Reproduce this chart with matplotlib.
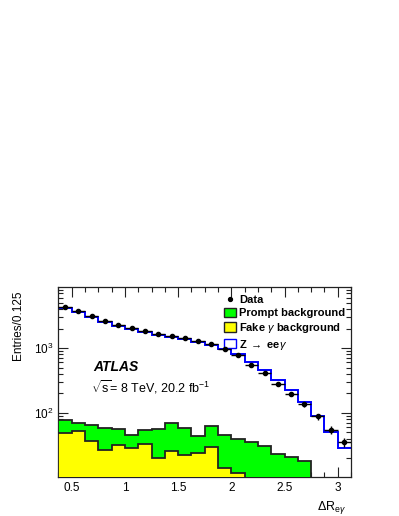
import numpy as np
import matplotlib
matplotlib.use("Agg")
import matplotlib.pyplot as plt
from matplotlib.patches import Patch
from matplotlib.lines import Line2D
from matplotlib.ticker import MultipleLocator, LogLocator, FixedLocator

plt.rcParams['font.family'] = ['Liberation Sans', 'DejaVu Sans']
plt.rcParams['mathtext.fontset'] = 'custom'
plt.rcParams['mathtext.rm'] = 'Liberation Sans'
plt.rcParams['mathtext.it'] = 'Liberation Sans:italic'
plt.rcParams['mathtext.bf'] = 'Liberation Sans:bold'

# bin edges (width 0.125)
bin_lo = 0.375
bin_width = 0.125
n_bins = 22
edges = bin_lo + bin_width * np.arange(n_bins + 1)

data = [4375, 3755, 3140, 2655, 2300, 2015, 1836, 1625, 1552, 1410, 1284,
        1166, 986, 778, 551, 413, 282, 197, 135, 88, 55, 35.5]
fake_bkg = [47.9, 52, 37.3, 26.3, 32.3, 28.6, 33, 20, 26, 22.6, 23.9,
            29.7, 14, 11.7, 0, 0, 0, 0, 0, 0, 0, 0]
prompt_bkg = [28.3, 18, 27.1, 32.2, 23.5, 17.6, 21.5, 36.5, 43.2, 35.9, 20.7,
              31.8, 31.1, 28.3, 35.1, 30.4, 23.1, 20.5, 17.8, 0, 0, 0]
signal = [4150, 3527, 2942, 2501, 2162, 1898, 1703, 1514, 1428, 1303, 1186,
          1064, 913, 767, 584, 425, 299, 202, 129, 88, 51, 29]

fake = np.array(fake_bkg, dtype=float)
prompt = np.array(prompt_bkg, dtype=float)
sig = np.array(signal, dtype=float)
dat = np.array(data, dtype=float)

stack1 = fake
stack2 = fake + prompt
stack3 = fake + prompt + sig

base = 1.0
fig = plt.figure(figsize=(3.99, 5.16), dpi=100)
ax = fig.add_axes([0.1466, 0.0762, 0.7331, 0.3682])

ax.stairs(stack3, edges, baseline=None, color='#0000ff', linewidth=1.4, zorder=2)
ax.stairs(np.where(stack2 > 0, stack2, base), edges, baseline=base, fill=True,
          facecolor='#00ff00', edgecolor='none', zorder=3)
ax.stairs(np.where(stack2 > 0, stack2, base), edges, baseline=base, fill=False,
          color='#222222', linewidth=1.3, zorder=4)
ax.stairs(np.where(stack1 > 0, stack1, base), edges, baseline=base, fill=True,
          facecolor='#ffff00', edgecolor='none', zorder=5)
ax.stairs(np.where(stack1 > 0, stack1, base), edges, baseline=base, fill=False,
          color='#222222', linewidth=1.3, zorder=6)

centers = 0.5 * (edges[:-1] + edges[1:])
ax.errorbar(centers, dat, xerr=bin_width / 2, yerr=np.sqrt(dat), fmt='o',
            ms=3.0, color='black', elinewidth=1.0, capsize=0, zorder=7)

ax.set_yscale('log')
ax.set_xlim(edges[0], edges[-1])
ax.set_ylim(10.3, 8900)

ax.xaxis.set_major_locator(FixedLocator([0.5, 1, 1.5, 2, 2.5, 3]))
ax.xaxis.set_minor_locator(MultipleLocator(0.125))
ax.set_xticklabels(['0.5', '1', '1.5', '2', '2.5', '3'])
ax.yaxis.set_major_locator(LogLocator(base=10, numticks=10))
ax.yaxis.set_minor_locator(LogLocator(base=10, subs=np.arange(2, 10), numticks=20))

ax.tick_params(which='both', direction='in', top=True, right=True,
               labelsize=8.5, width=0.8, color='#222222')
ax.tick_params(which='major', length=7)
ax.tick_params(which='minor', length=3.5)
ax.tick_params(axis='x', pad=4)
for s in ax.spines.values():
    s.set_linewidth(0.9)
    s.set_color('#222222')

ax.text(0.118, 0.577, 'ATLAS', transform=ax.transAxes, fontsize=10,
        fontweight='bold', fontstyle='italic', va='center', ha='left')
ax.text(0.112, 0.472, r'$\sqrt{\mathrm{s}}$= 8 TeV, 20.2 fb$^{\mathrm{-1}}$',
        transform=ax.transAxes, fontsize=9, va='center', ha='left')

handles = [
    Line2D([], [], marker='o', ls='none', color='black', ms=2.8),
    Patch(facecolor='#00ff00', edgecolor='#222222', linewidth=1.0),
    Patch(facecolor='#ffff00', edgecolor='#222222', linewidth=1.0),
    Patch(facecolor='white', edgecolor='#0000ff', linewidth=1.0),
]
labels = ['Data', 'Prompt background', r'Fake $\gamma$ background',
          r'Z $\rightarrow$ ee$\gamma$']
leg = ax.legend(handles, labels, loc='upper left', bbox_to_anchor=(0.538, 1.0),
                frameon=False, prop={'weight': 'bold', 'size': 8},
                handlelength=1.1, handleheight=0.9, handletextpad=0.3,
                labelspacing=0.25, borderaxespad=0.3)

fig.text(0.045, 1 - 290 / 516, 'Entries/0.125', rotation=90, ha='center',
         va='top', fontsize=8.5)
fig.text(346 / 399, 1 - 507 / 516, r'$\Delta$R$_{\mathrm{e}\gamma}$', ha='right',
         va='center', fontsize=9)

fig.savefig('out.png', dpi=100)
